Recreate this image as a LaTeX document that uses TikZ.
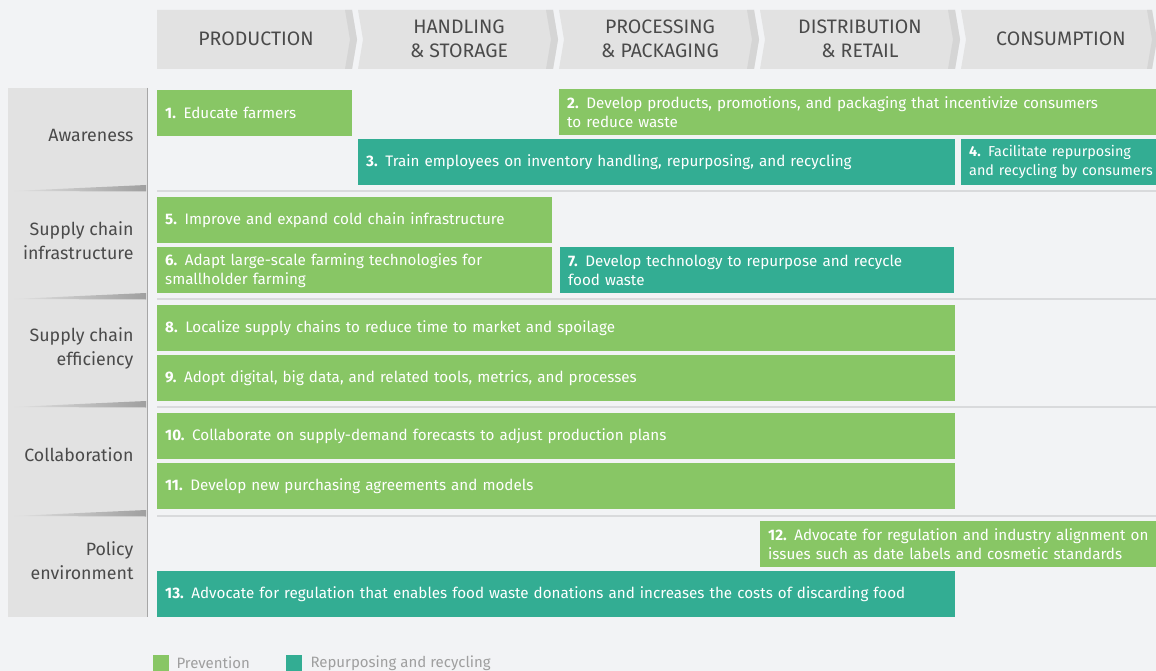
\documentclass[tikz,border=0pt]{standalone}
\usepackage{fontspec}
\setmainfont{Fira Sans}
\usepackage{xcolor}
\usepackage{tikz}
\usetikzlibrary{calc}
\definecolor{pagebg}{HTML}{F2F3F5}
\definecolor{hdrgray}{HTML}{E2E2E2}
\definecolor{hdrband}{HTML}{D5D5D5}
\definecolor{txtgray}{HTML}{4A4A4A}
\definecolor{prevgreen}{HTML}{88C665}
\definecolor{recyteal}{HTML}{33AD93}
\definecolor{sepgray}{HTML}{D9DADC}
\tikzstyle{hdr}=[text=txtgray, align=center,% phase names in the chevrons
font=\fontsize{19.5}{24}\selectfont]
\tikzstyle{rowlbl}=[text=txtgray, align=right, anchor=east,
font=\fontsize{17.8}{24}\selectfont]
\tikzstyle{lever}=[anchor=north west, align=left, text=white, minimum height=46pt,
inner xsep=8pt, inner ysep=0pt, font=\fontsize{15.2}{19}\selectfont]
\tikzstyle{prev}=[lever, fill=prevgreen]
\tikzstyle{recy}=[lever, fill=recyteal]
\tikzstyle{legtxt}=[anchor=west, text=gray!75, font=\fontsize{15}{18}\selectfont]

\begin{document}
\begin{tikzpicture}[x=1pt,y=-1pt]
\useasboundingbox (0,0) rectangle (1156,671);
\fill[pagebg] (0,0) rectangle (1156,671);
% chevrons
\fill[hdrgray] (157,10) -- (352,10) -- (357,39.5) -- (352,69) -- (157,69) -- cycle;
\fill[hdrband] (345,10) -- (352,10) -- (357,39.5) -- (352,69) -- (345,69) -- (350,39.5) -- cycle;
\fill[hdrgray] (358,10) -- (553,10) -- (558,39.5) -- (553,69) -- (358,69) -- (363,39.5) -- cycle;
\fill[hdrband] (546,10) -- (553,10) -- (558,39.5) -- (553,69) -- (546,69) -- (551,39.5) -- cycle;
\fill[hdrgray] (559,10) -- (754,10) -- (759,39.5) -- (754,69) -- (559,69) -- (564,39.5) -- cycle;
\fill[hdrband] (747,10) -- (754,10) -- (759,39.5) -- (754,69) -- (747,69) -- (752,39.5) -- cycle;
\fill[hdrgray] (760,10) -- (955,10) -- (960,39.5) -- (955,69) -- (760,69) -- (765,39.5) -- cycle;
\fill[hdrband] (948,10) -- (955,10) -- (960,39.5) -- (955,69) -- (948,69) -- (953,39.5) -- cycle;
\fill[hdrgray] (961,10) -- (1152,10) -- (1157,39.5) -- (1152,69) -- (961,69) -- (966,39.5) -- cycle;
\fill[hdrband] (1147,10) -- (1152,10) -- (1157,39.5) -- (1152,69) -- (1147,69) -- (1152,39.5) -- cycle;
\node[hdr] (prod) at (256,39) {PRODUCTION};
\node[hdr] (hand) at (459,39) {HANDLING\\\& STORAGE};
\node[hdr] (proc) at (660,39) {PROCESSING\\\& PACKAGING};
\node[hdr] (dist) at (860,39) {DISTRIBUTION\\\& RETAIL};
\node[hdr] (cons) at (1061,39) {CONSUMPTION};
% row panel
\fill[hdrgray] (8,88) rectangle (147,617);
\draw[gray!70, line width=1.5pt] (147.5,88) -- (147.5,617);
\shade[left color=hdrgray, right color=gray!75] (13,191) -- (146,185) -- (146,191.5) -- cycle;
\shade[left color=hdrgray, right color=gray!75] (13,299) -- (146,293) -- (146,299.5) -- cycle;
\shade[left color=hdrgray, right color=gray!75] (13,407) -- (146,401) -- (146,407.5) -- cycle;
\shade[left color=hdrgray, right color=gray!75] (13,516) -- (146,510) -- (146,516.5) -- cycle;
\node[rowlbl] (aware) at (137,135) {Awareness};
\node[rowlbl] (infra) at (137,241) {Supply chain\\infrastructure};
\node[rowlbl] (effic) at (137,348) {Supply chain\\efficiency};
\node[rowlbl] (collab) at (137,455) {Collaboration};
\node[rowlbl] (policy) at (137,561) {Policy\\environment};
% separators
\draw[sepgray, line width=2pt] (157,191) -- (1156,191);
\draw[sepgray, line width=2pt] (157,299) -- (1156,299);
\draw[sepgray, line width=2pt] (157,407) -- (1156,407);
\draw[sepgray, line width=2pt] (157,516) -- (1156,516);
% levers
\node[prev, text width=179pt] (l1) at (157,90) {\textbf{1.} Educate farmers};
\node[prev, text width=584pt] (l2) at (559,89) {\textbf{2.} Develop products, promotions, and packaging that incentivize consumers\\to reduce waste};
\node[recy, text width=581pt] (l3) at (358,139) {\textbf{3.} Train employees on inventory handling, repurposing, and recycling};
\node[recy, text width=200pt, font=\fontsize{14.4}{19}\selectfont] (l4) at (961,139) {\textbf{4.} Facilitate repurposing\\and recycling by consumers};
\node[prev, text width=379pt] (l5) at (157,197) {\textbf{5.} Improve and expand cold chain infrastructure};
\node[prev, text width=379pt] (l6) at (157,247) {\textbf{6.} Adapt large-scale farming technologies for\\smallholder farming};
\node[recy, text width=378pt] (l7) at (560,247) {\textbf{7.} Develop technology to repurpose and recycle\\food waste};
\node[prev, text width=782pt] (l8) at (157,305) {\textbf{8.} Localize supply chains to reduce time to market and spoilage};
\node[prev, text width=782pt] (l9) at (157,355) {\textbf{9.} Adopt digital, big data, and related tools, metrics, and processes};
\node[prev, text width=782pt] (l10) at (157,413) {\textbf{10.} Collaborate on supply-demand forecasts to adjust production plans};
\node[prev, text width=782pt] (l11) at (157,463) {\textbf{11.} Develop new purchasing agreements and models};
\node[prev, text width=400pt] (l12) at (760,521) {\textbf{12.} Advocate for regulation and industry alignment on\\issues such as date labels and cosmetic standards};
\node[recy, text width=782pt] (l13) at (157,571) {\textbf{13.} Advocate for regulation that enables food waste donations and increases the costs of discarding food};
% legend
\fill[prevgreen] (153,655) rectangle (169,671);
\node[legtxt] (lgprev) at (173,663) {Prevention};
\fill[recyteal] (286,655) rectangle (302,671);
\node[legtxt] (lgrecy) at (307,663) {Repurposing and recycling};
\end{tikzpicture}
\end{document}
